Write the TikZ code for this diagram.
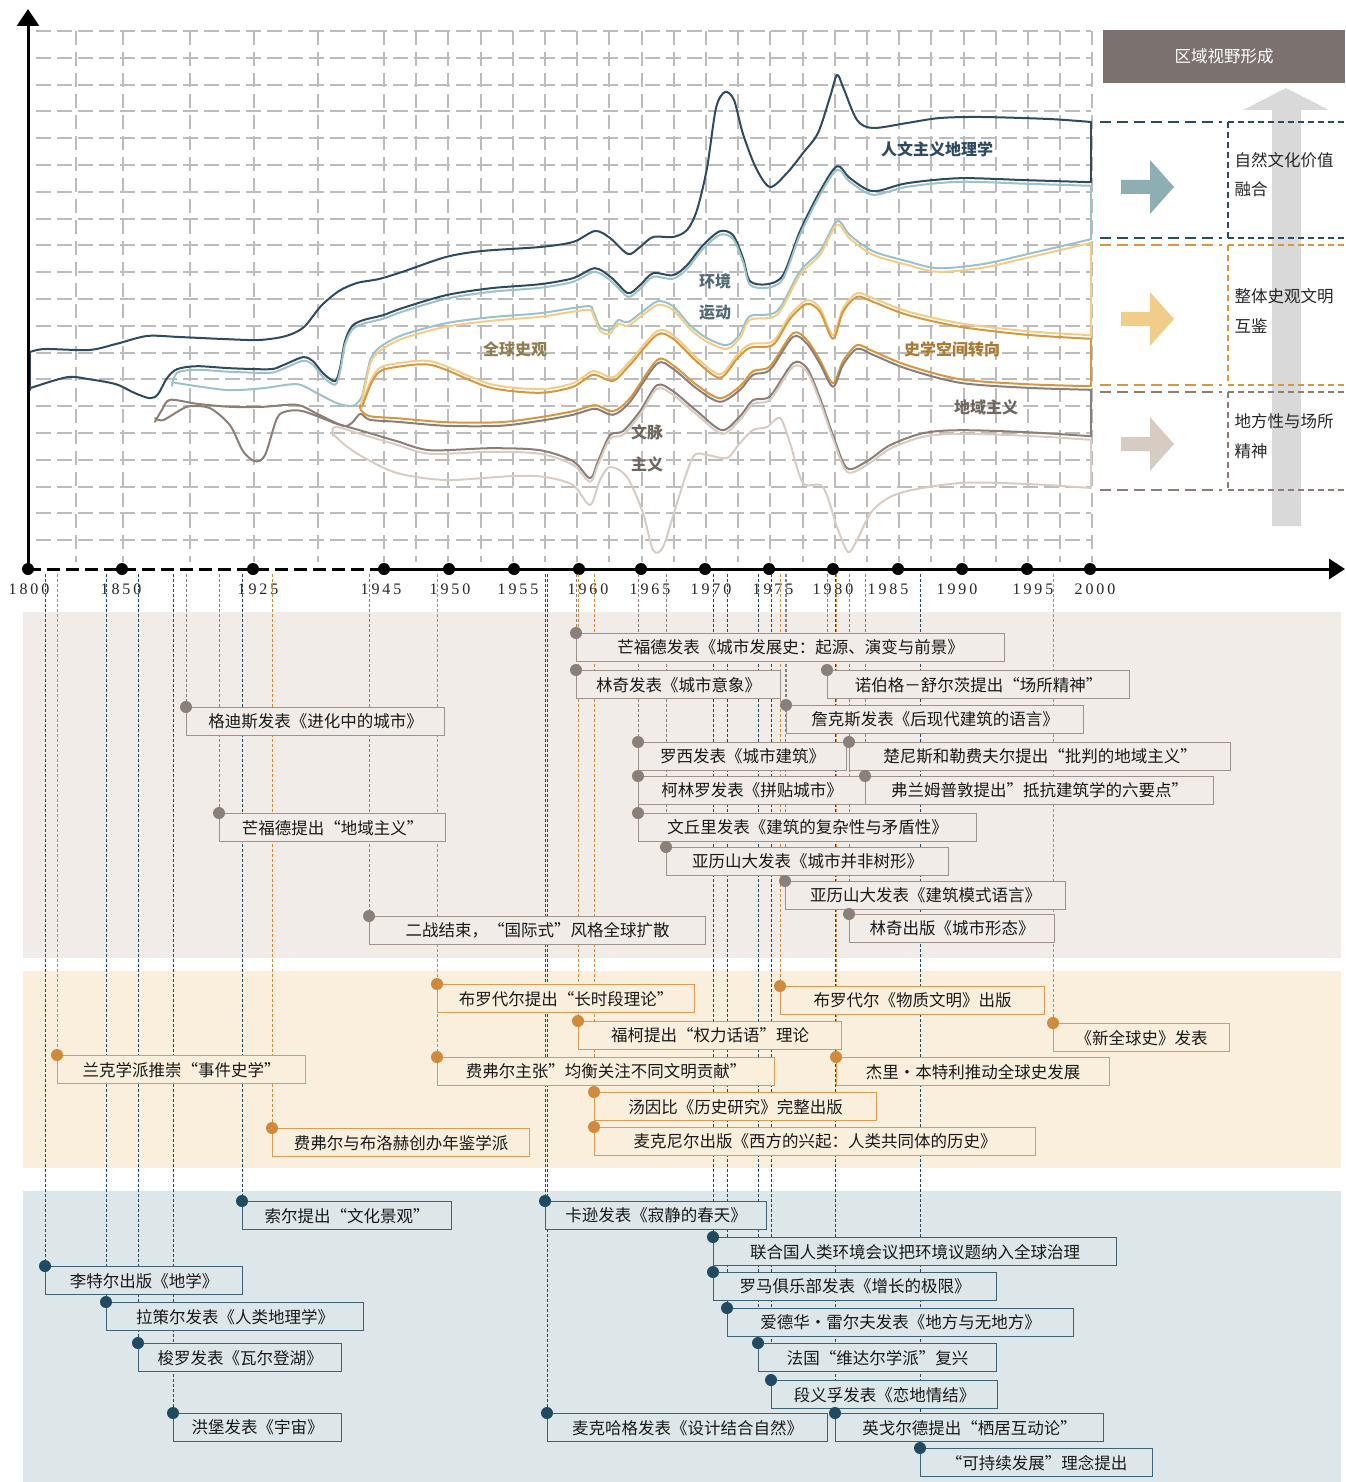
\documentclass[tikz,border=0pt]{standalone}
\usepackage{fontspec}
\setmainfont{Noto Sans CJK SC}
\newfontfamily\yearfont[LetterSpace=18]{Liberation Serif}
\usetikzlibrary{arrows.meta}

\definecolor{humcol}{HTML}{2E4A60}
\definecolor{envcol}{HTML}{9CC2C8}
\definecolor{glocol}{HTML}{F2CD8A}
\definecolor{spacol}{HTML}{D6973F}
\definecolor{regcol}{HTML}{8C7E77}
\definecolor{ctxcol}{HTML}{D8CBC2}
\definecolor{gridcol}{HTML}{BCBCBC}
\definecolor{gbg}{HTML}{F1ECE8}
\definecolor{obg}{HTML}{FAEFDC}
\definecolor{bbg}{HTML}{DDE7EA}
\definecolor{gedge}{HTML}{9D928C}
\definecolor{oedge}{HTML}{D89B58}
\definecolor{bedge}{HTML}{3D6175}
\definecolor{gdotc}{HTML}{8B7F79}
\definecolor{odotc}{HTML}{CF8A3D}
\definecolor{bdotc}{HTML}{1F4A62}
\definecolor{headcol}{HTML}{7B7270}
\definecolor{bigarrow}{HTML}{D9D9D9}

\newcommand{\evfont}{\fontsize{16.5}{19}\selectfont}
\newcommand{\labfont}{\fontsize{16}{19}\selectfont\bfseries}

% boundaries between the streams
\newcommand{\edgeHum}[1]{\draw[#1] plot[smooth,tension=.5] coordinates {(30,352) (45,349) (89,350) (116,344) (147,336) (179,337) (223,339) (259,340) (286,336) (304,327) (321,306) (339,291) (357,283) (379,279) (402,272) (446,257) (482,251) (540,247) (573,242) (595,231) (610,238) (628,254) (640,247) (653,237) (673,237) (687,230) (697,210) (707,168) (716,108) (725,92) (734,100) (743,134) (756,168) (770,187) (787,173) (803,153) (818,133) (830,97) (837,75) (843,87) (857,120) (873,128) (907,123) (940,118) (982,117) (1049,119) (1091,122)};}
\newcommand{\edgeHumEnv}[2]{\draw[#1] plot[smooth,tension=.5] coordinates {#2 (177,371) (197,368) (230,370) (270,371) (283,367) (303,359) (313,363) (323,375) (335,383) (340,370) (345,343) (352,328) (363,322) (383,317) (402,310) (446,297) (491,290) (540,286) (573,280) (595,270) (612,280) (628,295) (640,287) (653,275) (673,277) (687,267) (703,247) (720,233) (733,237) (743,260) (750,283) (767,286) (783,277) (800,233) (820,193) (837,168) (850,180) (873,193) (907,185) (960,180) (1027,182) (1091,184)};}
\newcommand{\edgeEnvGlo}[2]{\draw[#1] plot[smooth,tension=.5] coordinates {#2 (362,398) (366,380) (371,360) (380,349) (402,337) (446,325) (491,319) (540,315) (587,308) (593,313) (600,329) (610,332) (618,322) (628,324) (643,313) (658,303) (673,308) (690,327) (707,340) (727,347) (740,336) (750,318) (777,313) (800,273) (820,253) (837,223) (850,237) (873,253) (907,263) (938,270) (982,266) (1027,256) (1091,241)};}
\newcommand{\edgeGloSpa}[1]{\draw[#1] plot[smooth,tension=.5] coordinates {(362,405) (367,392) (373,378) (383,368) (413,363) (430,363) (446,368) (491,386) (540,391) (573,385) (593,373) (613,379) (630,363) (657,333) (673,337) (697,360) (720,376) (737,357) (750,346) (773,343) (790,317) (807,302) (820,310) (833,337) (843,310) (857,295) (873,300) (907,313) (960,325) (1027,333) (1091,337)};}
\newcommand{\edgeSpaReg}[2]{\draw[#1] plot[smooth,tension=.5] coordinates {#2 (361,412) (370,418) (397,420) (446,424) (500,424) (540,419) (573,413) (595,407) (613,413) (630,400) (657,362) (673,367) (697,387) (720,400) (740,388) (753,373) (770,368) (793,335) (807,342) (820,362) (833,385) (843,363) (857,347) (873,353) (907,367) (960,381) (1027,386) (1091,388)};}
\newcommand{\edgeRegCtx}[2]{\draw[#1] plot[smooth,tension=.5] coordinates {#2 (335,425) (363,433) (397,443) (430,452) (491,450) (540,452) (573,463) (590,480) (598,463) (610,437) (623,433) (640,413) (657,387) (673,393) (697,413) (722,432) (740,418) (753,402) (770,398) (793,365) (807,370) (820,400) (833,437) (847,470) (867,463) (890,447) (923,435) (960,432) (1027,434) (1091,438)};}
\newcommand{\edgeCtx}[1]{\draw[#1] plot[smooth,tension=.5] coordinates {(333,434) (345,445) (363,457) (397,473) (446,480) (513,476) (545,477) (573,485) (590,505) (600,480) (610,467) (627,477) (643,513) (653,550) (663,547) (677,503) (693,457) (707,455) (727,458) (740,443) (753,430) (767,427) (780,418) (790,443) (803,483) (823,487) (837,527) (848,552) (857,540) (873,510) (900,493) (960,483) (1027,484) (1091,488)};}

\begin{document}
\begin{tikzpicture}[x=1pt,y=-1pt,
  band/.style={line width=2pt, line join=round, line cap=round},
  hum/.style={band, draw=humcol},
  env/.style={band, draw=envcol},
  glo/.style={band, draw=glocol},
  spa/.style={band, draw=spacol},
  reg/.style={band, draw=regcol},
  ctx/.style={band, draw=ctxcol},
  up/.style={yshift=1.8pt},
  dn/.style={yshift=-1.8pt},
  gridh/.style={draw=gridcol, line width=2pt, dash pattern=on 15pt off 6pt},
  gridv/.style={draw=gridcol, line width=2pt, dash pattern=on 14pt off 7pt},
  axisline/.style={line width=3pt},
  yr/.style={font=\yearfont\fontsize{16}{18}\selectfont, text=black!85},
  lab/.style={font=\labfont},
  ptext/.style={anchor=west, font=\evfont, text=black!85},
  pthick/.style={line width=2.2pt, dash pattern=on 11pt off 6pt},
  pthin/.style={line width=1.3pt, dash pattern=on 6pt off 4pt},
  evbox/.style={draw, anchor=north west, minimum height=28pt, inner sep=0pt, line width=1.4pt, font=\evfont, text=black!90},
  gbox/.style={evbox, draw=gedge, fill=gbg},
  obox/.style={evbox, draw=oedge, fill=obg},
  bbox/.style={evbox, draw=bedge, fill=bbg},
  guideline/.style={line width=0.9pt, dash pattern=on 3pt off 2pt},
  gguide/.style={guideline, draw=gdotc},
  oguide/.style={guideline, draw=odotc},
  bguide/.style={guideline, draw=bdotc}]

\useasboundingbox (0,0) rectangle (1345,1482);

% grid
\foreach \gy in {0,...,19}
  \draw[gridh] (36,{31+26.8*\gy}) -- (1091,{31+26.8*\gy});
\foreach \gx in {76,123,190,254,318}
  \draw[gridv] (\gx,31) -- (\gx,562);
\foreach \gk in {0,...,22}
  \draw[gridv] ({384+32.2*\gk},31) -- ({384+32.2*\gk},562);

% streams
\edgeHum{hum}
\edgeHumEnv{hum, up}{(30,390) (67,379) (89,381) (116,386) (135,395) (150,400) (158,396) (167,380)}
\edgeHumEnv{env, dn}{(172,384)}
\edgeEnvGlo{env, up}{(172,384) (197,388) (230,392) (263,390) (297,386) (317,395) (337,405) (352,408) (358,404)}
\edgeEnvGlo{glo, dn}{(360,406)}
\edgeGloSpa{glo, up}
\edgeGloSpa{spa, dn}
\edgeSpaReg{spa, up}{(360,407)}
\edgeSpaReg{reg, dn}{(155,420) (162,408) (170,398) (197,402) (230,405) (263,405) (297,403) (317,412) (343,424) (352,421) (357,415)}
\edgeRegCtx{reg, up}{(155,420) (163,422) (180,412) (190,408) (210,410) (230,427) (243,453) (255,463) (265,457) (277,420) (287,413) (303,413) (330,423)}
\edgeRegCtx{ctx, dn}{(333,434)}
\edgeCtx{ctx}

\draw[hum] (30,352) -- (30,390);
\draw[hum] (1091,122) -- (1091,182);
\draw[env] (1091,186) -- (1091,239);
\draw[glo] (1091,243) -- (1091,335);
\draw[spa] (1091,339) -- (1091,386);
\draw[reg] (1091,390) -- (1091,436);
\draw[ctx] (1091,440) -- (1091,488);

\node[lab, text=humcol] (humlab) at (937,149) {人文主义地理学};
\node[lab, text=humcol!50!envcol!80!black] (envlabA) at (715,281) {环境};
\node[lab, text=humcol!50!envcol!80!black] (envlabB) at (715,313) {运动};
\node[lab, text=glocol!60!black] (glolab) at (515,349) {全球史观};
\node[lab, text=spacol!80!black] (spalab) at (952,349) {史学空间转向};
\node[lab, text=regcol!80!black] (reglab) at (986,407) {地域主义};
\node[lab, text=regcol!80!black] (ctxlabA) at (647,432) {文脉};
\node[lab, text=regcol!80!black] (ctxlabB) at (647,464) {主义};

% axes
\coordinate (o) at (28,569);
\coordinate (ytop) at (28,9);
\coordinate (xbreak) at (381,569);
\coordinate (xend) at (1345,569);
\draw[axisline, -{Triangle[length=17pt,width=22pt]}] (o) -- (ytop);
\draw[axisline, dash pattern=on 13pt off 6pt] (o) -- (xbreak);
\draw[axisline, -{Triangle[length=16pt,width=20pt]}] (xbreak) -- (xend);
\foreach \tx in {28,122,253,384,449,514,579,641,705,769,833,898,962,1027,1090}
  \fill (\tx,569) circle (6);

\node[yr] (t1800) at (29,589) {1800};
\node[yr] (t1850) at (121,589) {1850};
\node[yr] (t1925) at (258,589) {1925};
\node[yr] (t1945) at (381,589) {1945};
\node[yr] (t1950) at (450,589) {1950};
\node[yr] (t1955) at (518,589) {1955};
\node[yr] (t1960) at (588,589) {1960};
\node[yr] (t1965) at (650,589) {1965};
\node[yr] (t1970) at (711,589) {1970};
\node[yr] (t1975) at (773,589) {1975};
\node[yr] (t1980) at (833,589) {1980};
\node[yr] (t1985) at (888,589) {1985};
\node[yr] (t1990) at (957,589) {1990};
\node[yr] (t1995) at (1033,589) {1995};
\node[yr] (t2000) at (1095,589) {2000};

% right panel
\fill[bigarrow] (1272,526) -- (1272,110) -- (1243,110) -- (1286,88) -- (1329,110) -- (1301,110) -- (1301,526) -- cycle;
\node[fill=headcol, text=white, font=\evfont, minimum width=242pt, minimum height=53pt, inner sep=0pt] (head) at (1224,56.5) {区域视野形成};

\draw[pthick, draw=humcol] (1100,122) -- (1222,122);
\draw[pthick, draw=humcol] (1100,238) -- (1222,238);
\draw[pthin, draw=humcol] (1228,122) -- (1345,122);
\draw[pthin, draw=humcol] (1228,238) -- (1345,238);
\draw[pthin, draw=humcol] (1228,122) -- (1228,238);
\draw[pthick, draw=spacol] (1100,245) -- (1222,245);
\draw[pthick, draw=spacol] (1100,385) -- (1222,385);
\draw[pthin, draw=spacol] (1228,245) -- (1345,245);
\draw[pthin, draw=spacol] (1228,385) -- (1345,385);
\draw[pthin, draw=spacol] (1228,245) -- (1228,385);
\draw[pthick, draw=regcol] (1100,392) -- (1222,392);
\draw[pthick, draw=regcol] (1100,490) -- (1222,490);
\draw[pthin, draw=regcol] (1228,392) -- (1345,392);
\draw[pthin, draw=regcol] (1228,490) -- (1345,490);
\draw[pthin, draw=regcol] (1228,392) -- (1228,490);

\fill[envcol!90!black, shift={(0,187)}] (1121,-7) -- (1150,-7) -- (1150,-27) -- (1174,0) -- (1150,27) -- (1150,7) -- (1121,7) -- cycle;
\fill[glocol, shift={(0,319)}] (1121,-7) -- (1150,-7) -- (1150,-27) -- (1174,0) -- (1150,27) -- (1150,7) -- (1121,7) -- cycle;
\fill[ctxcol, shift={(0,444)}] (1121,-7) -- (1150,-7) -- (1150,-27) -- (1174,0) -- (1150,27) -- (1150,7) -- (1121,7) -- cycle;

\node[ptext] (natA) at (1231,160) {自然文化价值};
\node[ptext] (natB) at (1231,189) {融合};
\node[ptext] (civA) at (1231,296) {整体史观文明};
\node[ptext] (civB) at (1231,326) {互鉴};
\node[ptext] (plcA) at (1231,421) {地方性与场所};
\node[ptext] (plcB) at (1231,451) {精神};

% event bands
\fill[gbg] (23,612) rectangle (1341,958);
\fill[obg] (23,971) rectangle (1341,1168);
\fill[bbg] (23,1191) rectangle (1341,1482);

\coordinate (guide) at (0,574);
\coordinate (mumfordA) at (576,633);
\coordinate (lynchA) at (576,670);
\coordinate (norberg) at (827,670);
\coordinate (jencks) at (786,705);
\coordinate (rossi) at (638,742);
\coordinate (tzonis) at (849,742);
\coordinate (rowe) at (638,776);
\coordinate (frampton) at (865,776);
\coordinate (venturi) at (638,813);
\coordinate (alexA) at (666,847);
\coordinate (alexB) at (785,881);
\coordinate (lynchB) at (849,914);
\coordinate (postwar) at (369,916);
\coordinate (geddes) at (186,707);
\coordinate (mumfordB) at (219,813);
\coordinate (ranke) at (57,1055);
\coordinate (annales) at (272,1128);
\coordinate (braudelA) at (437,984);
\coordinate (febvre) at (437,1057);
\coordinate (foucault) at (578,1021);
\coordinate (toynbee) at (594,1092);
\coordinate (mcneill) at (594,1127);
\coordinate (braudelB) at (780,986);
\coordinate (newglobal) at (1053,1023);
\coordinate (bentley) at (836,1057);
\coordinate (sauer) at (242,1201);
\coordinate (ritter) at (45,1266);
\coordinate (ratzel) at (106,1302);
\coordinate (thoreau) at (138,1343);
\coordinate (humboldt) at (173,1413);
\coordinate (carson) at (545,1201);
\coordinate (unconf) at (713,1237);
\coordinate (rome) at (713,1272);
\coordinate (relph) at (727,1308);
\coordinate (vidal) at (758,1343);
\coordinate (tuan) at (771,1380);
\coordinate (mcharg) at (547,1413);
\coordinate (ingold) at (835,1413);
\coordinate (sustain) at (920,1448);

\draw[gguide] (mumfordA |- guide) -- (mumfordA);
\draw[gguide] (lynchA |- guide) -- (lynchA);
\draw[gguide] (norberg |- guide) -- (norberg);
\draw[gguide] (jencks |- guide) -- (jencks);
\draw[gguide] (rossi |- guide) -- (rossi);
\draw[gguide] (tzonis |- guide) -- (tzonis);
\draw[gguide] (rowe |- guide) -- (rowe);
\draw[gguide] (frampton |- guide) -- (frampton);
\draw[gguide] (venturi |- guide) -- (venturi);
\draw[gguide] (alexA |- guide) -- (alexA);
\draw[gguide] (alexB |- guide) -- (alexB);
\draw[gguide] (lynchB |- guide) -- (lynchB);
\draw[gguide] (postwar |- guide) -- (postwar);
\draw[gguide] (geddes |- guide) -- (geddes);
\draw[gguide] (mumfordB |- guide) -- (mumfordB);
\draw[oguide] (ranke |- guide) -- (ranke);
\draw[oguide] (annales |- guide) -- (annales);
\draw[oguide] (braudelA |- guide) -- (braudelA);
\draw[oguide] (febvre |- guide) -- (febvre);
\draw[oguide] (foucault |- guide) -- (foucault);
\draw[oguide] (toynbee |- guide) -- (toynbee);
\draw[oguide] (mcneill |- guide) -- (mcneill);
\draw[oguide] (braudelB |- guide) -- (braudelB);
\draw[oguide] (newglobal |- guide) -- (newglobal);
\draw[oguide] (bentley |- guide) -- (bentley);
\draw[bguide] (sauer |- guide) -- (sauer);
\draw[bguide] (ritter |- guide) -- (ritter);
\draw[bguide] (ratzel |- guide) -- (ratzel);
\draw[bguide] (thoreau |- guide) -- (thoreau);
\draw[bguide] (humboldt |- guide) -- (humboldt);
\draw[bguide] (carson |- guide) -- (carson);
\draw[bguide] (unconf |- guide) -- (unconf);
\draw[bguide] (rome |- guide) -- (rome);
\draw[bguide] (relph |- guide) -- (relph);
\draw[bguide] (vidal |- guide) -- (vidal);
\draw[bguide] (tuan |- guide) -- (tuan);
\draw[bguide] (mcharg |- guide) -- (mcharg);
\draw[bguide] (ingold |- guide) -- (ingold);
\draw[bguide] (sustain |- guide) -- (sustain);

\node[gbox, minimum width=428pt] (mumfordAbox) at (mumfordA) {芒福德发表《城市发展史：起源、演变与前景》};
\node[gbox, minimum width=204pt] (lynchAbox) at (lynchA) {林奇发表《城市意象》};
\node[gbox, minimum width=302pt] (norbergbox) at (norberg) {诺伯格－舒尔茨提出“场所精神”};
\node[gbox, minimum width=297pt] (jencksbox) at (jencks) {詹克斯发表《后现代建筑的语言》};
\node[gbox, minimum width=208pt] (rossibox) at (rossi) {罗西发表《城市建筑》};
\node[gbox, minimum width=381pt] (tzonisbox) at (tzonis) {楚尼斯和勒费夫尔提出“批判的地域主义”};
\node[gbox, minimum width=227pt] (rowebox) at (rowe) {柯林罗发表《拼贴城市》};
\node[gbox, minimum width=348pt] (framptonbox) at (frampton) {弗兰姆普敦提出"抵抗建筑学的六要点"};
\node[gbox, minimum width=338pt] (venturibox) at (venturi) {文丘里发表《建筑的复杂性与矛盾性》};
\node[gbox, minimum width=282pt] (alexAbox) at (alexA) {亚历山大发表《城市并非树形》};
\node[gbox, minimum width=280pt] (alexBbox) at (alexB) {亚历山大发表《建筑模式语言》};
\node[gbox, minimum width=205pt] (lynchBbox) at (lynchB) {林奇出版《城市形态》};
\node[gbox, minimum width=336pt] (postwarbox) at (postwar) {二战结束，“国际式”风格全球扩散};
\node[gbox, minimum width=258pt] (geddesbox) at (geddes) {格迪斯发表《进化中的城市》};
\node[gbox, minimum width=226pt] (mumfordBbox) at (mumfordB) {芒福德提出“地域主义”};

\node[obox, minimum width=248pt] (rankebox) at (ranke) {兰克学派推崇“事件史学”};
\node[obox, minimum width=257pt] (annalesbox) at (annales) {费弗尔与布洛赫创办年鉴学派};
\node[obox, minimum width=257pt] (braudelAbox) at (braudelA) {布罗代尔提出“长时段理论”};
\node[obox, minimum width=337pt] (febvrebox) at (febvre) {费弗尔主张”均衡关注不同文明贡献”};
\node[obox, minimum width=263pt] (foucaultbox) at (foucault) {福柯提出“权力话语”理论};
\node[obox, minimum width=282pt] (toynbeebox) at (toynbee) {汤因比《历史研究》完整出版};
\node[obox, minimum width=441pt] (mcneillbox) at (mcneill) {麦克尼尔出版《西方的兴起：人类共同体的历史》};
\node[obox, minimum width=264pt] (braudelBbox) at (braudelB) {布罗代尔《物质文明》出版};
\node[obox, minimum width=176pt] (newglobalbox) at (newglobal) {《新全球史》发表};
\node[obox, minimum width=273pt] (bentleybox) at (bentley) {杰里·本特利推动全球史发展};

\node[bbox, minimum width=209pt] (sauerbox) at (sauer) {索尔提出“文化景观”};
\node[bbox, minimum width=197pt] (ritterbox) at (ritter) {李特尔出版《地学》};
\node[bbox, minimum width=257pt] (ratzelbox) at (ratzel) {拉策尔发表《人类地理学》};
\node[bbox, minimum width=203pt] (thoreaubox) at (thoreau) {梭罗发表《瓦尔登湖》};
\node[bbox, minimum width=168pt] (humboldtbox) at (humboldt) {洪堡发表《宇宙》};
\node[bbox, minimum width=221pt] (carsonbox) at (carson) {卡逊发表《寂静的春天》};
\node[bbox, minimum width=403pt] (unconfbox) at (unconf) {联合国人类环境会议把环境议题纳入全球治理};
\node[bbox, minimum width=283pt] (romebox) at (rome) {罗马俱乐部发表《增长的极限》};
\node[bbox, minimum width=346pt] (relphbox) at (relph) {爱德华·雷尔夫发表《地方与无地方》};
\node[bbox, minimum width=238pt] (vidalbox) at (vidal) {法国“维达尔学派”复兴};
\node[bbox, minimum width=226pt] (tuanbox) at (tuan) {段义孚发表《恋地情结》};
\node[bbox, minimum width=280pt] (mchargbox) at (mcharg) {麦克哈格发表《设计结合自然》};
\node[bbox, minimum width=268pt] (ingoldbox) at (ingold) {英戈尔德提出“栖居互动论”};
\node[bbox, minimum width=232pt] (sustainbox) at (sustain) {“可持续发展”理念提出};

\fill[gdotc] (mumfordA) circle (6);
\fill[gdotc] (lynchA) circle (6);
\fill[gdotc] (norberg) circle (6);
\fill[gdotc] (jencks) circle (6);
\fill[gdotc] (rossi) circle (6);
\fill[gdotc] (tzonis) circle (6);
\fill[gdotc] (rowe) circle (6);
\fill[gdotc] (frampton) circle (6);
\fill[gdotc] (venturi) circle (6);
\fill[gdotc] (alexA) circle (6);
\fill[gdotc] (alexB) circle (6);
\fill[gdotc] (lynchB) circle (6);
\fill[gdotc] (postwar) circle (6);
\fill[gdotc] (geddes) circle (6);
\fill[gdotc] (mumfordB) circle (6);
\fill[odotc] (ranke) circle (6);
\fill[odotc] (annales) circle (6);
\fill[odotc] (braudelA) circle (6);
\fill[odotc] (febvre) circle (6);
\fill[odotc] (foucault) circle (6);
\fill[odotc] (toynbee) circle (6);
\fill[odotc] (mcneill) circle (6);
\fill[odotc] (braudelB) circle (6);
\fill[odotc] (newglobal) circle (6);
\fill[odotc] (bentley) circle (6);
\fill[bdotc] (sauer) circle (6);
\fill[bdotc] (ritter) circle (6);
\fill[bdotc] (ratzel) circle (6);
\fill[bdotc] (thoreau) circle (6);
\fill[bdotc] (humboldt) circle (6);
\fill[bdotc] (carson) circle (6);
\fill[bdotc] (unconf) circle (6);
\fill[bdotc] (rome) circle (6);
\fill[bdotc] (relph) circle (6);
\fill[bdotc] (vidal) circle (6);
\fill[bdotc] (tuan) circle (6);
\fill[bdotc] (mcharg) circle (6);
\fill[bdotc] (ingold) circle (6);
\fill[bdotc] (sustain) circle (6);

\end{tikzpicture}
\end{document}
